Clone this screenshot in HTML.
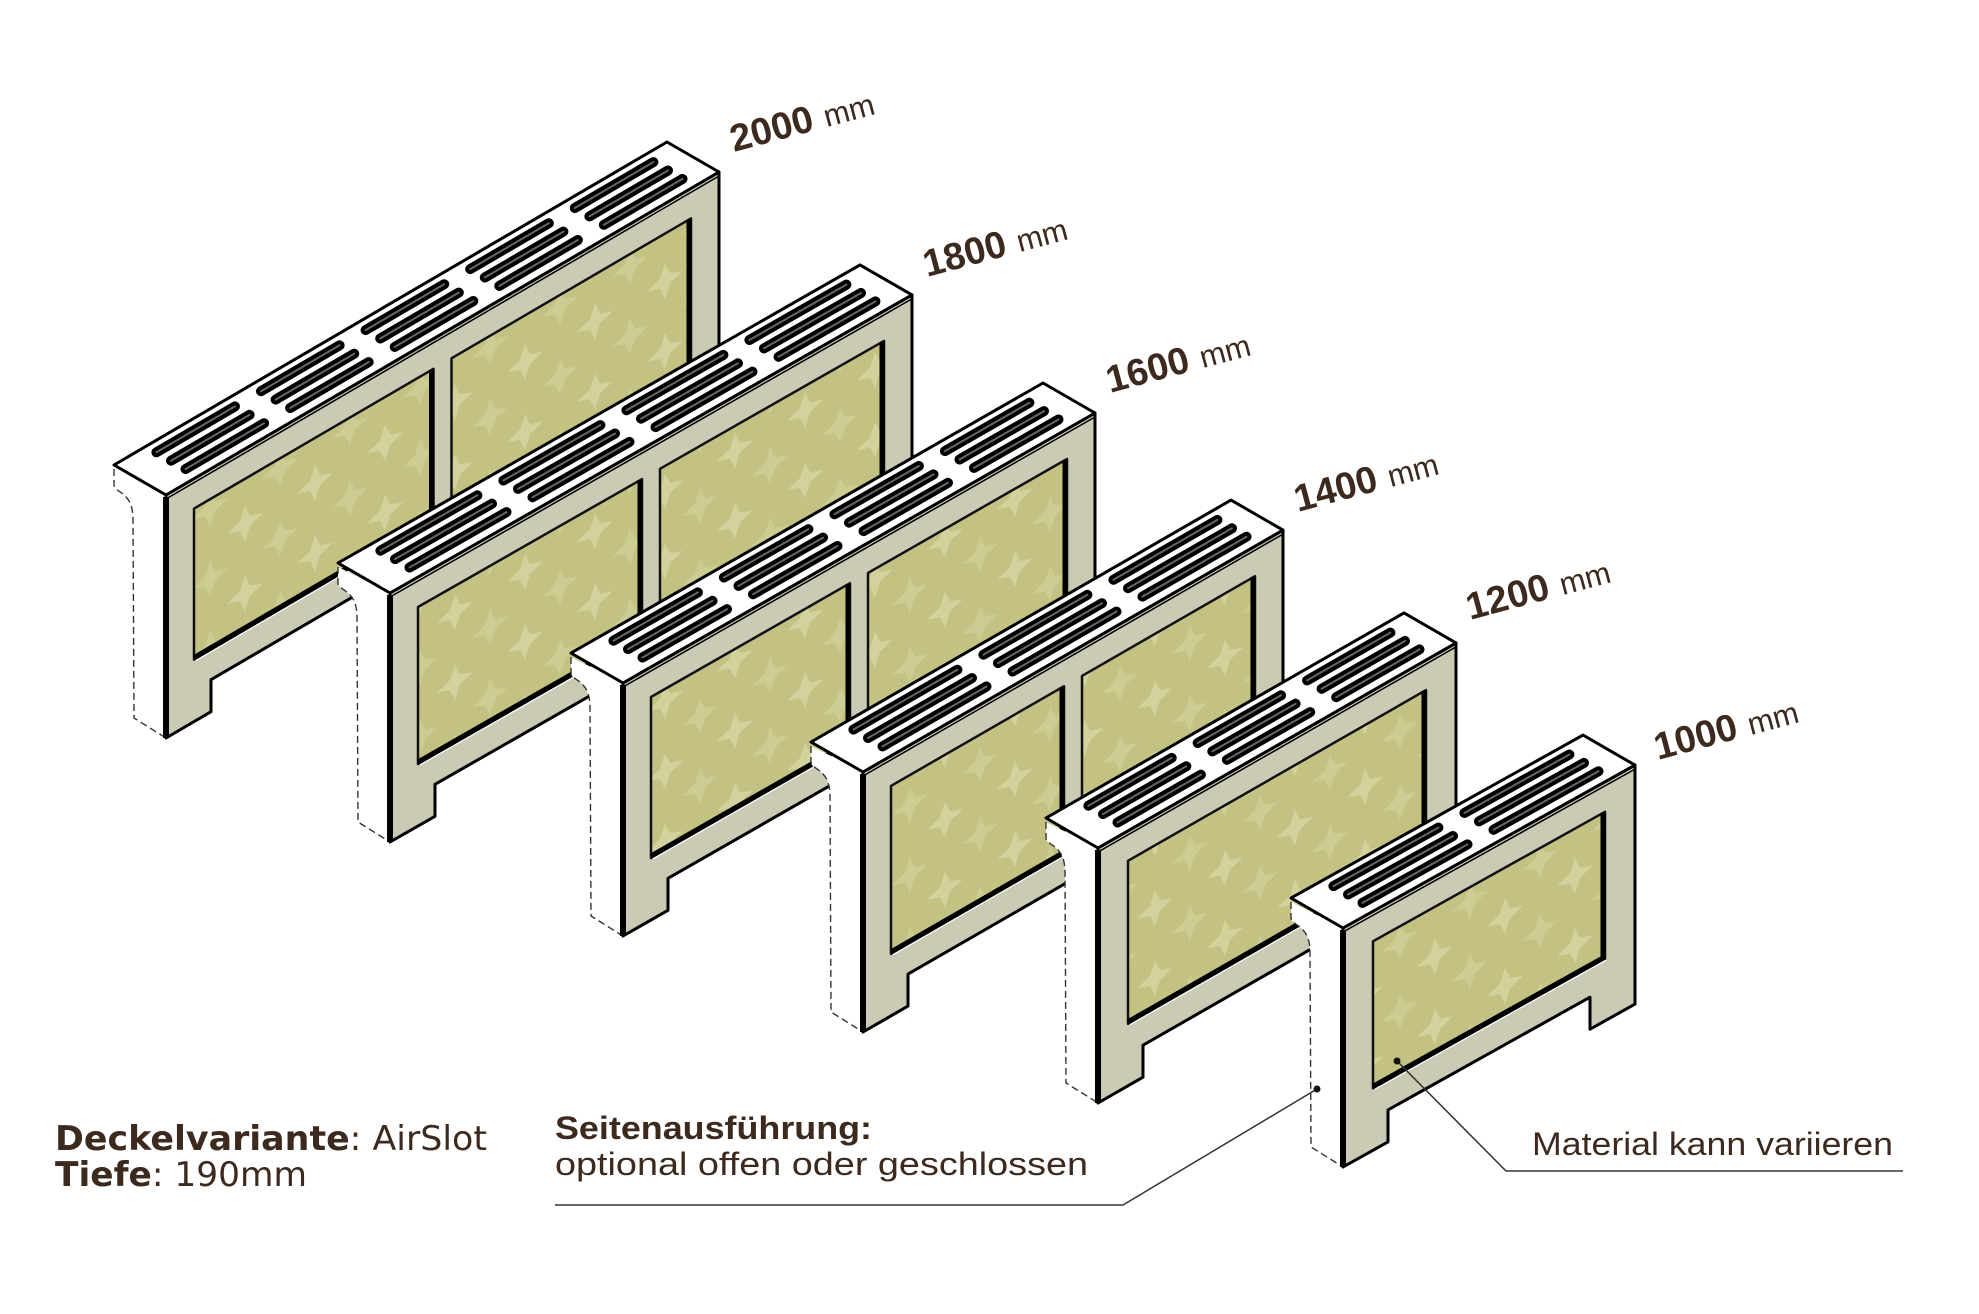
<!DOCTYPE html>
<html><head><meta charset="utf-8"><style>
html,body{margin:0;padding:0;background:#fff;}
svg{display:block;}
</style></head><body>
<svg id="s" xmlns="http://www.w3.org/2000/svg" width="1979" height="1314" viewBox="0 0 1979 1314">
<defs>
<pattern id="pat" width="70" height="70" patternUnits="userSpaceOnUse" patternTransform="skewY(-30)">
<rect width="70" height="70" fill="#c4c283"/>
<path d="M35 17 L40 30 L53 35 L40 40 L35 53 L30 40 L17 35 L30 30 Z" fill="#d3d29d"/>
<path d="M0 -18 L5 -5 L18 0 L5 5 L0 18 L-5 5 L-18 0 L-5 -5 Z M70 -18 L75 -5 L88 0 L75 5 L70 18 L65 5 L52 0 L65 -5 Z M0 52 L5 65 L18 70 L5 75 L0 88 L-5 75 L-18 70 L-5 65 Z M70 52 L75 65 L88 70 L75 75 L70 88 L65 75 L52 70 L65 65 Z" fill="#cdcc93"/>
</pattern>
</defs>
<g id="rads"></g>
<g font-family="Liberation Sans, DejaVu Sans, sans-serif" fill="#3d2a1f">
<g transform="translate(734,152) rotate(-15)"><text font-weight="bold" font-size="38">2000</text><text x="96" font-size="31">mm</text></g>
<g transform="translate(927,277) rotate(-15)"><text font-weight="bold" font-size="38">1800</text><text x="96" font-size="31">mm</text></g>
<g transform="translate(1110,393) rotate(-15)"><text font-weight="bold" font-size="38">1600</text><text x="96" font-size="31">mm</text></g>
<g transform="translate(1298,512) rotate(-15)"><text font-weight="bold" font-size="38">1400</text><text x="96" font-size="31">mm</text></g>
<g transform="translate(1470,620) rotate(-15)"><text font-weight="bold" font-size="38">1200</text><text x="96" font-size="31">mm</text></g>
<g transform="translate(1658,760) rotate(-15)"><text font-weight="bold" font-size="38">1000</text><text x="96" font-size="31">mm</text></g>
<text x="55" y="1150" font-size="34" font-family="DejaVu Sans, sans-serif" textLength="432" lengthAdjust="spacingAndGlyphs"><tspan font-weight="bold">Deckelvariante</tspan>: AirSlot</text>
<text x="55" y="1186" font-size="34" font-family="DejaVu Sans, sans-serif" textLength="252" lengthAdjust="spacingAndGlyphs"><tspan font-weight="bold">Tiefe</tspan>: 190mm</text>
<text x="555" y="1139" font-size="32" font-weight="bold" textLength="317" lengthAdjust="spacingAndGlyphs">Seitenausführung:</text>
<text x="555" y="1175" font-size="32" textLength="533" lengthAdjust="spacingAndGlyphs">optional offen oder geschlossen</text>
<text x="1532" y="1155" font-size="32" textLength="361" lengthAdjust="spacingAndGlyphs">Material kann variieren</text>
</g>
<g fill="none" stroke="#333" stroke-width="1.5">
<polyline points="555,1205 1123,1205 1317,1089"/>
<polyline points="1903,1171 1506,1171 1397,1061"/>
</g>
<circle cx="1317" cy="1089" r="3.5" fill="#111"/>
<circle cx="1397" cy="1061" r="3.5" fill="#111"/>
</svg>
<script>
var R=[
{x:166,y:495,L:553,s:-0.584,H:243,n:5,d:1},
{x:390,y:593,L:522,s:-0.571,H:249,n:4,d:1},
{x:623,y:683,L:472,s:-0.572,H:253,n:4,d:1},
{x:863,y:772,L:420,s:-0.576,H:260,n:3,d:1},
{x:1098,y:848,L:358,s:-0.573,H:255,n:3,d:0},
{x:1343,y:928,L:292,s:-0.558,H:239,n:2,d:0}];
var DX=-52,DY=-30,out='';
function P(r,a,h,t){t=t||0;return [(r.x+a+DX*t).toFixed(1),(r.y+r.s*a+h+DY*t).toFixed(1)];}
function pts(r,arr){return arr.map(function(p){return P(r,p[0],p[1],p[2]).join(',');}).join(' ');}
R.forEach(function(r){
 var x=r.x,y=r.y,H=r.H,L=r.L;
 var sp='M'+(x+DX)+','+(y+DY+4)+' L'+(x+DX)+','+(y+DY+20)+' C'+(x+DX)+','+(y-2)+' '+(x-33)+','+(y-4)+' '+(x-33)+','+(y+24)+' L'+(x-32)+','+(y+H-20)+' L'+x+','+(y+H);
 out+='<path d="'+sp+' L'+x+','+y+' Z" fill="#fff"/>';
 out+='<path d="'+sp+'" fill="none" stroke="#333" stroke-width="1.4" stroke-dasharray="7,4"/>';
 var lw=45,nd=32;
 out+='<polygon points="'+pts(r,[[0,0],[L,0],[L,H],[L-lw,H],[L-lw,H-nd],[lw,H-nd],[lw,H],[0,H]])+'" fill="#cbcab4" stroke="#000" stroke-width="3" stroke-linejoin="round"/>';
 var pan=r.d?[[28,L/2-9],[L/2+9,L-28]]:[[30,L-30]];
 pan.forEach(function(p){
  var a0=p[0],a1=p[1],t0=30,t1=H-62;
  out+='<polygon points="'+pts(r,[[a0,t0],[a1,t0],[a1,t1],[a0,t1]])+'" fill="url(#pat)" stroke="#111" stroke-width="2.5" stroke-linejoin="round"/>';
  out+='<polyline points="'+pts(r,[[a1-2,t0],[a1-2,t1-2],[a0,t1-2]])+'" fill="none" stroke="#000" stroke-width="5"/>';
  out+='<polyline points="'+pts(r,[[a1+1,t1+2],[a0+2,t1+2]])+'" fill="none" stroke="#fff" stroke-width="1.2"/>';
 });
 out+='<polygon points="'+pts(r,[[0,0,0],[L,0,0],[L,0,1],[0,0,1]])+'" fill="#fff" stroke="#000" stroke-width="3" stroke-linejoin="round"/>';
 out+='<polyline points="'+pts(r,[[0,4],[L,4]])+'" fill="none" stroke="#000" stroke-width="1.5"/>';
 var n=r.n,len=(L-56-26*(n-1))/n;
 for(var g=0;g<n;g++){var a0=32+g*(len+26);
  [0.24,0.52,0.8].forEach(function(t){
   var A=P(r,a0,0,t),B=P(r,a0+len,0,t);
   out+='<line x1="'+A[0]+'" y1="'+A[1]+'" x2="'+B[0]+'" y2="'+B[1]+'" stroke="#000" stroke-width="10" stroke-linecap="round"/>';
   out+='<line x1="'+A[0]+'" y1="'+A[1]+'" x2="'+B[0]+'" y2="'+B[1]+'" stroke="#666" stroke-width="2" stroke-linecap="round"/>';
  });}
 out+='<line x1="'+x+'" y1="'+(y+2)+'" x2="'+x+'" y2="'+(y+H)+'" stroke="#000" stroke-width="6"/>';
});
document.getElementById('rads').innerHTML=out;
</script>
</body></html>
